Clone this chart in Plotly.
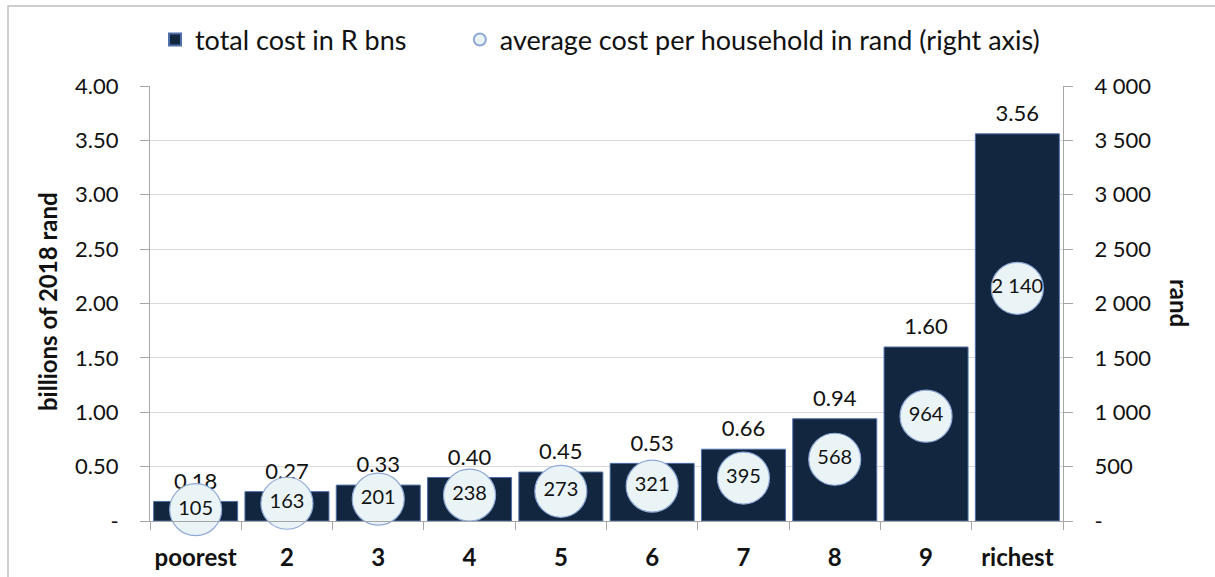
import plotly.graph_objects as go

categories = ["poorest", "2", "3", "4", "5", "6", "7", "8", "9", "richest"]
total_cost_bns = [0.18, 0.27, 0.33, 0.40, 0.45, 0.53, 0.66, 0.94, 1.60, 3.56]
avg_cost_rand = [105, 163, 201, 238, 273, 321, 395, 568, 964, 2140]

left_ticks = [0, 0.5, 1.0, 1.5, 2.0, 2.5, 3.0, 3.5, 4.0]
left_ticktext = ["-", "0.50", "1.00", "1.50", "2.00", "2.50", "3.00", "3.50", "4.00"]
right_ticks = [0, 500, 1000, 1500, 2000, 2500, 3000, 3500, 4000]
right_ticktext = ["-", "500", "1 000", "1 500", "2 000", "2 500", "3 000", "3 500", "4 000"]

W, H = 1215, 577
L, R, T, B = 150, 152, 86, 56
pw, ph = W - L - R, H - T - B

FONT = "Lato, 'Open Sans', sans-serif"

def fmt_rand(v):
    return f"{v:,}".replace(",", " ")

def px_x(x):
    return (x - L) / pw

def px_y(y):
    return (H - B - y) / ph

fig = go.Figure()
fig.add_trace(go.Bar(
    x=categories, y=total_cost_bns, name="total cost in R bns" + "\u00a0" * 7,
    marker=dict(color="#12263F", line=dict(color="#4F6FA8", width=1)),
    cliponaxis=False, yaxis="y",
))
# value labels above the bars
fig.add_trace(go.Scatter(
    x=categories, y=total_cost_bns, mode="markers+text", showlegend=False,
    marker=dict(size=10, opacity=0),
    text=[f"{v:.2f}" for v in total_cost_bns], textposition="top center",
    textfont=dict(size=22, color="#111111", family=FONT),
    cliponaxis=False, yaxis="y", hoverinfo="skip",
))
fig.add_trace(go.Scatter(
    x=categories, y=avg_cost_rand, name="average cost per household in rand (right axis)",
    mode="markers+text",
    marker=dict(size=52, color="#EAF4F7", line=dict(color="#8FA9D6", width=1.2)),
    text=[fmt_rand(v) for v in avg_cost_rand], textposition="middle center",
    textfont=dict(size=20, color="#111111", family=FONT),
    cliponaxis=False, yaxis="y2",
))

fig.update_layout(
    width=W, height=H,
    margin=dict(l=L, r=R, t=T, b=B, autoexpand=False),
    paper_bgcolor="white", plot_bgcolor="white",
    font=dict(family=FONT, color="#111111"),
    bargap=0.08,
    showlegend=True,
    legend=dict(orientation="h", x=px_x(155), xanchor="left",
                y=px_y(40), yanchor="middle",
                font=dict(size=27, family=FONT), itemsizing="constant",
                itemwidth=30, bgcolor="rgba(0,0,0,0)"),
    xaxis=dict(
        range=[-0.5, 9.5],
        tickangle=0,
        tickfont=dict(size=24, family=FONT, weight="bold"),
        showline=True, linecolor="#A6A6A6", linewidth=1,
        ticks="outside", tickson="boundaries", ticklen=8, tickcolor="#A6A6A6",
        ticklabelstandoff=15,
        showgrid=False,
    ),
    yaxis=dict(
        range=[0, 4.0], tickvals=left_ticks, ticktext=left_ticktext,
        tickfont=dict(size=22, family=FONT),
        showgrid=True, gridcolor="#D9D9D9", gridwidth=1,
        showline=True, linecolor="#A6A6A6", linewidth=1,
        ticks="outside", ticklen=9, tickcolor="#A6A6A6",
        ticklabelstandoff=17,
        zeroline=False,
    ),
    yaxis2=dict(
        range=[0, 4000], tickvals=right_ticks, ticktext=right_ticktext,
        overlaying="y", side="right",
        tickfont=dict(size=22, family=FONT),
        showgrid=False, zeroline=False,
        showline=True, linecolor="#A6A6A6", linewidth=1,
        ticks="outside", ticklen=9, tickcolor="#A6A6A6",
        ticklabelstandoff=17,
    ),
    annotations=[
        dict(text="<b>billions of 2018 rand</b>", textangle=-90, showarrow=False,
             xref="paper", yref="paper", x=px_x(47), y=px_y(302),
             xanchor="center", yanchor="middle", font=dict(size=24, family=FONT)),
        dict(text="<b>rand</b>", textangle=90, showarrow=False,
             xref="paper", yref="paper", x=px_x(1180), y=px_y(303),
             xanchor="center", yanchor="middle", font=dict(size=24, family=FONT)),
    ],
    shapes=[dict(
        type="rect", xref="paper", yref="paper",
        x0=px_x(8), x1=px_x(1230),
        y0=px_y(590), y1=px_y(6),
        line=dict(color="#BFBFBF", width=1.5), fillcolor="rgba(0,0,0,0)", layer="below",
    )],
)

fig.write_html("out.html", config={"displayModeBar": False},
               post_script="document.body.style.margin='0';")
